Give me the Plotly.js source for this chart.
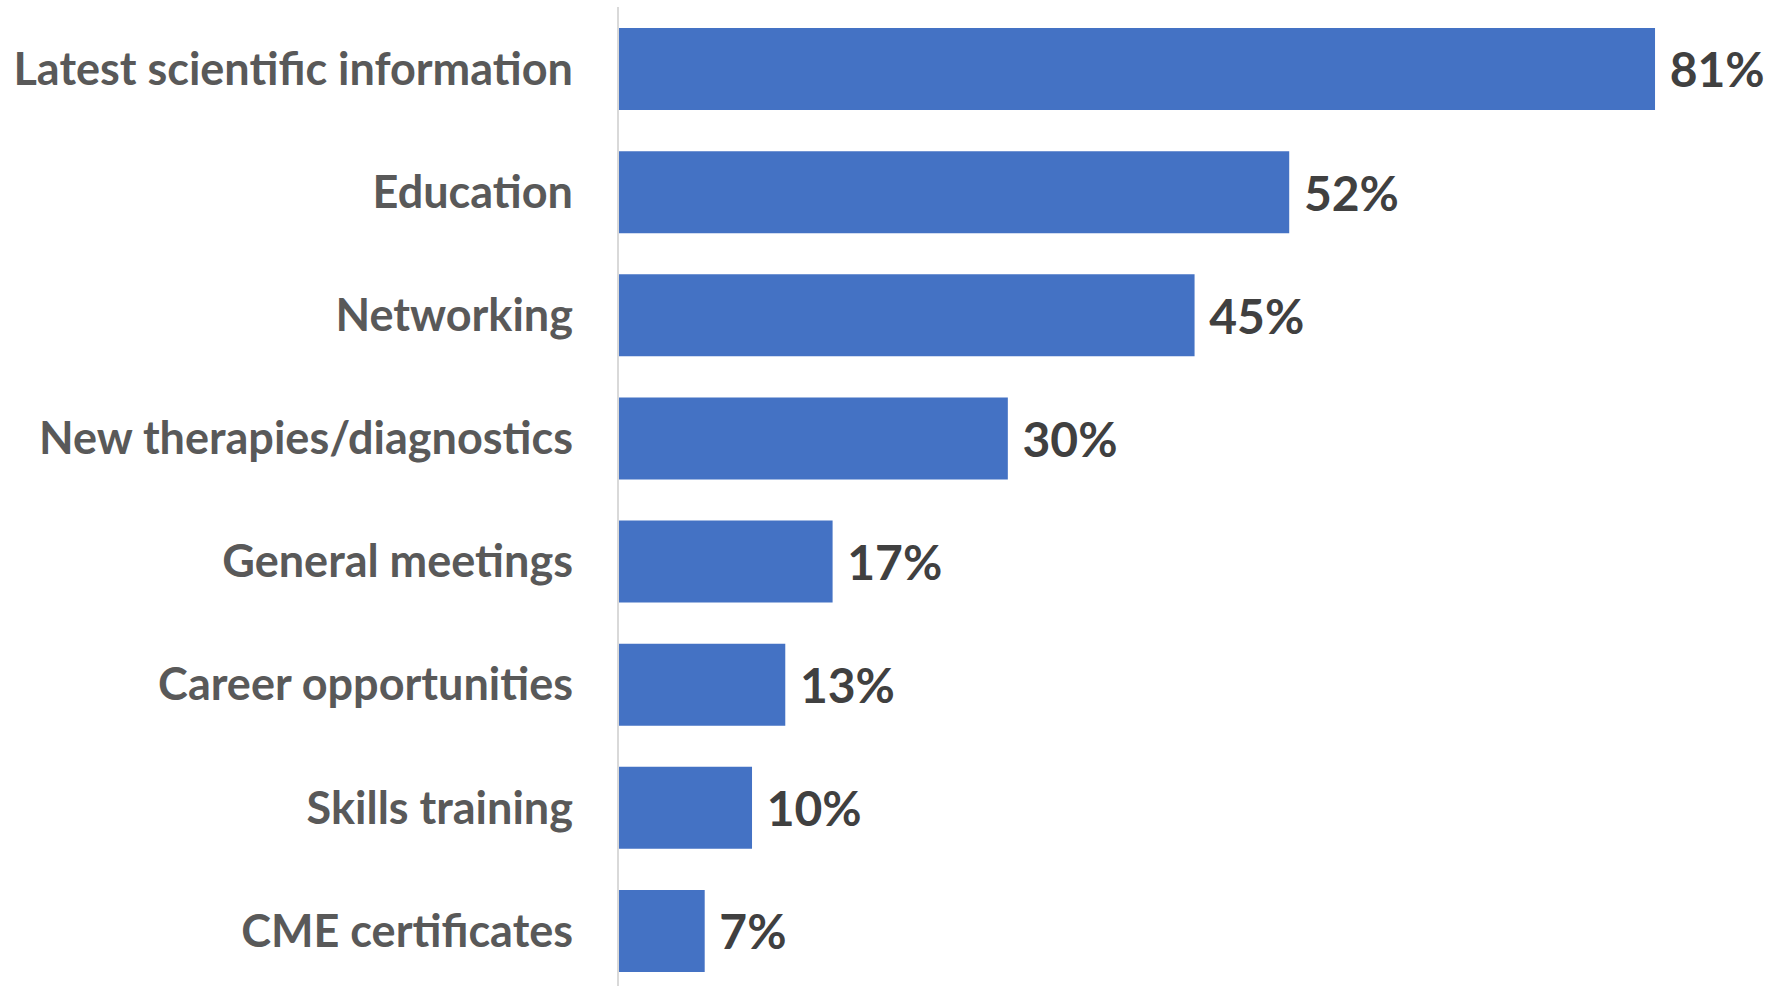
<!DOCTYPE html>
<html>
<head>
<meta charset="utf-8">
<script src="https://cdn.plot.ly/plotly-3.0.1.min.js"></script>
<style>
  html, body { margin: 0; padding: 0; background: #fff; }
  #chart { width: 1775px; height: 986px; }
</style>
</head>
<body>
<div id="chart"></div>
<script>
// categories, top to bottom
var categories = [
    'Latest scientific information',
    'Education',
    'Networking',
    'New therapies/diagnostics',
    'General meetings',
    'Career opportunities',
    'Skills training',
    'CME certificates'
];
// share of respondents (%)
var shares = [81, 52.4, 45, 30.4, 16.7, 13, 10.4, 6.7];

var trace = {
    type: 'bar',
    orientation: 'h',
    y: categories,
    x: shares,
    marker: { color: '#4472C4' },
    texttemplate: '\u00a0%{x:.0f}%',
    textposition: 'outside',
    cliponaxis: false,
    textfont: { family: 'Lato', size: 48, color: '#404040', weight: 'bold' },
    hoverinfo: 'none'
};

var layout = {
    width: 1775,
    height: 986,
    margin: { l: 619, r: 0, t: 7, b: 0 },
    paper_bgcolor: '#ffffff',
    plot_bgcolor: '#ffffff',
    bargap: 0.334,
    showlegend: false,
    font: { family: 'Lato' },
    xaxis: {
        range: [0, 90.38],
        showgrid: false,
        zeroline: false,
        showticklabels: false,
        showline: false
    },
    yaxis: {
        type: 'category',
        range: [7.447, -0.5035],
        showgrid: false,
        zeroline: false,
        showline: true,
        linecolor: '#d9d9d9',
        linewidth: 2,
        ticks: '',
        ticklabelstandoff: 35,
        tickfont: { family: 'Lato', size: 45, color: '#595959', weight: 'bold' }
    }
};

Plotly.newPlot('chart', [trace], layout, { staticPlot: true });
</script>
</body>
</html>
